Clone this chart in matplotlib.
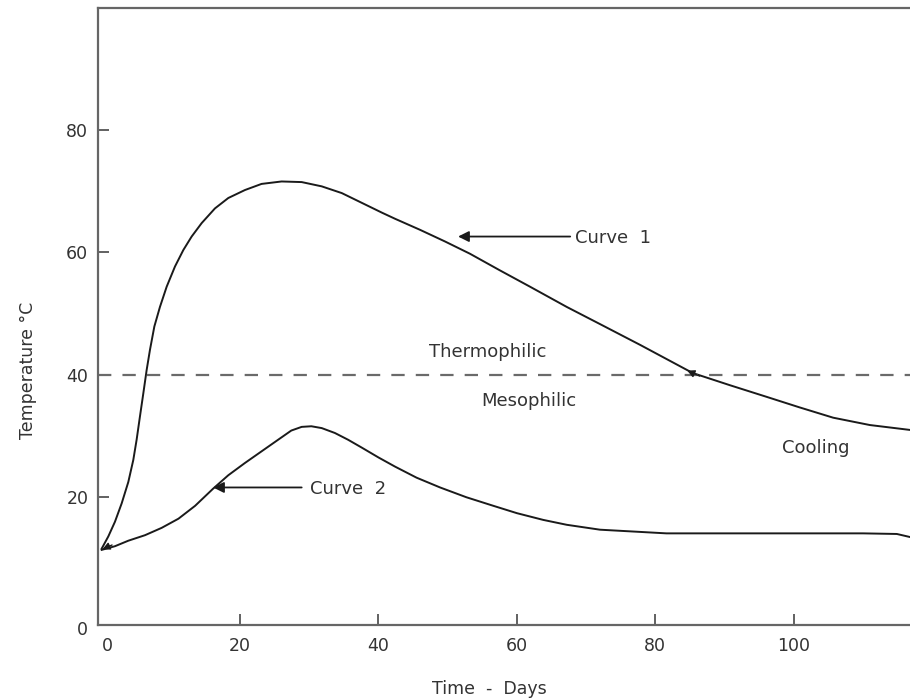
import matplotlib
matplotlib.use('Agg')
import matplotlib.pyplot as plt
import matplotlib.transforms as mtransforms

# values
curve1_days = [0, 0.96, 1.92, 2.89, 3.85, 4.57, 5.05, 5.53, 6.02, 6.5, 6.98, 7.61, 8.42,
               9.39, 10.59, 11.8, 13.0, 14.45, 16.37, 18.3, 20.7, 23.1, 26.0, 28.9, 31.8,
               34.7, 37.6, 40.5, 42.4, 46.0, 49.6, 53.2, 57.5, 61.9, 67.2, 72.0, 77.8,
               85.4, 90.8, 96.1, 100.8, 105.7, 111.0, 116.8]
curve1_temp = [11.6, 13.6, 16.0, 19.0, 22.5, 26.1, 29.4, 33.2, 37.0, 40.8, 44.1, 47.9, 51.1,
               54.4, 57.7, 60.4, 62.6, 64.8, 67.2, 68.9, 70.2, 71.2, 71.6, 71.5, 70.8,
               69.7, 68.1, 66.5, 65.5, 63.7, 61.8, 59.8, 57.1, 54.4, 51.1, 48.3, 44.9,
               40.3, 38.3, 36.4, 34.7, 33.0, 31.8, 31.0]
curve2_days = [0, 1.92, 3.85, 6.26, 8.67, 11.1, 13.5, 16.1, 18.3, 20.7, 23.1, 25.5, 27.4,
               28.9, 30.3, 31.8, 33.7, 35.6, 37.6, 40.0, 42.4, 45.5, 48.9, 52.7, 56.6,
               60.0, 63.8, 67.2, 72.0, 76.8, 81.6, 90, 100, 110, 114.9, 116.8]
curve2_temp = [11.4, 12.0, 12.9, 13.8, 15.0, 16.5, 18.6, 21.4, 23.6, 25.6, 27.5, 29.4, 30.9,
               31.5, 31.6, 31.3, 30.5, 29.4, 28.1, 26.5, 25.0, 23.2, 21.6, 20.0, 18.6,
               17.4, 16.3, 15.5, 14.7, 14.4, 14.1, 14.1, 14.1, 14.1, 14.0, 13.5]
boundary_temp = 40
x_ticks = [0, 20, 40, 60, 80, 100]
y_ticks = [0, 20, 40, 60, 80]

fig = plt.figure(figsize=(9.1, 6.99), dpi=100)
ax = fig.add_axes([0.1077, 0.1059, 0.8923, 0.8827])

ink = '#1a1a1a'
ax.plot(curve1_days, curve1_temp, color=ink, lw=1.4, solid_joinstyle='round')
ax.plot(curve2_days, curve2_temp, color=ink, lw=1.4, solid_joinstyle='round')
ax.axhline(boundary_temp, color='#6a6a6a', lw=1.6, ls=(0, (6, 5)))

ax.set_xlim(-0.53, 116.8)
ax.set_ylim(-0.87, 99.95)
ax.set_xticks(x_ticks)
ax.set_yticks(y_ticks)
ax.tick_params(direction='in', length=8, width=1.3, colors='#555555',
               labelcolor='#333333', labelsize=12.5, pad=7)
ax.tick_params(axis='x', pad=8.5)
for side in ['left', 'bottom', 'top']:
    ax.spines[side].set_color('#666666')
    ax.spines[side].set_linewidth(1.6)
ax.spines['right'].set_visible(False)

# no tick marks at the origin, and the zero labels sit a bit off their ticks
ax.xaxis.get_major_ticks()[0].tick1line.set_visible(False)
ax.yaxis.get_major_ticks()[0].tick1line.set_visible(False)
ax.get_xticklabels()[0].set_transform(ax.get_xticklabels()[0].get_transform() +
                                      mtransforms.ScaledTranslation(6/100, 0, fig.dpi_scale_trans))
ax.get_yticklabels()[0].set_transform(ax.get_yticklabels()[0].get_transform() +
                                      mtransforms.ScaledTranslation(0, -8/100, fig.dpi_scale_trans))

ax.set_xlabel('Time  -  Days', fontsize=12.5, color='#333333')
ax.xaxis.set_label_coords(0.4815, -0.089)
ax.set_ylabel('Temperature °C', fontsize=12.5, color='#333333')
ax.yaxis.set_label_coords(-0.075, 0.413)

# labels and pointers
arrow = dict(arrowstyle='-|>', color=ink, lw=1.3, mutation_scale=16, shrinkA=0, shrinkB=0)
ax.annotate('', xy=(51.5, 62.6), xytext=(67.7, 62.6), arrowprops=arrow)
ax.text(68.4, 62.4, 'Curve  1', fontsize=13, color='#333333', va='center', ha='left')
ax.annotate('', xy=(16.1, 21.6), xytext=(28.9, 21.6), arrowprops=arrow)
ax.text(30.1, 21.4, 'Curve  2', fontsize=13, color='#333333', va='center', ha='left')

ax.text(55.75, 43.8, 'Thermophilic', fontsize=13, color='#333333', ha='center', va='center')
ax.text(61.7, 35.7, 'Mesophilic', fontsize=13, color='#333333', ha='center', va='center')
ax.text(103.2, 28, 'Cooling', fontsize=13, color='#333333', ha='center', va='center')

# small arrowheads drawn on the curves
small = dict(arrowstyle='-|>', color=ink, lw=1, mutation_scale=11, shrinkA=0, shrinkB=0)
ax.annotate('', xy=(0.1, 11.5), xytext=(1.5, 12.2), arrowprops=small)
ax.annotate('', xy=(84.6, 40.7), xytext=(86.4, 39.8), arrowprops=small)

fig.savefig('out.png', dpi=100)
